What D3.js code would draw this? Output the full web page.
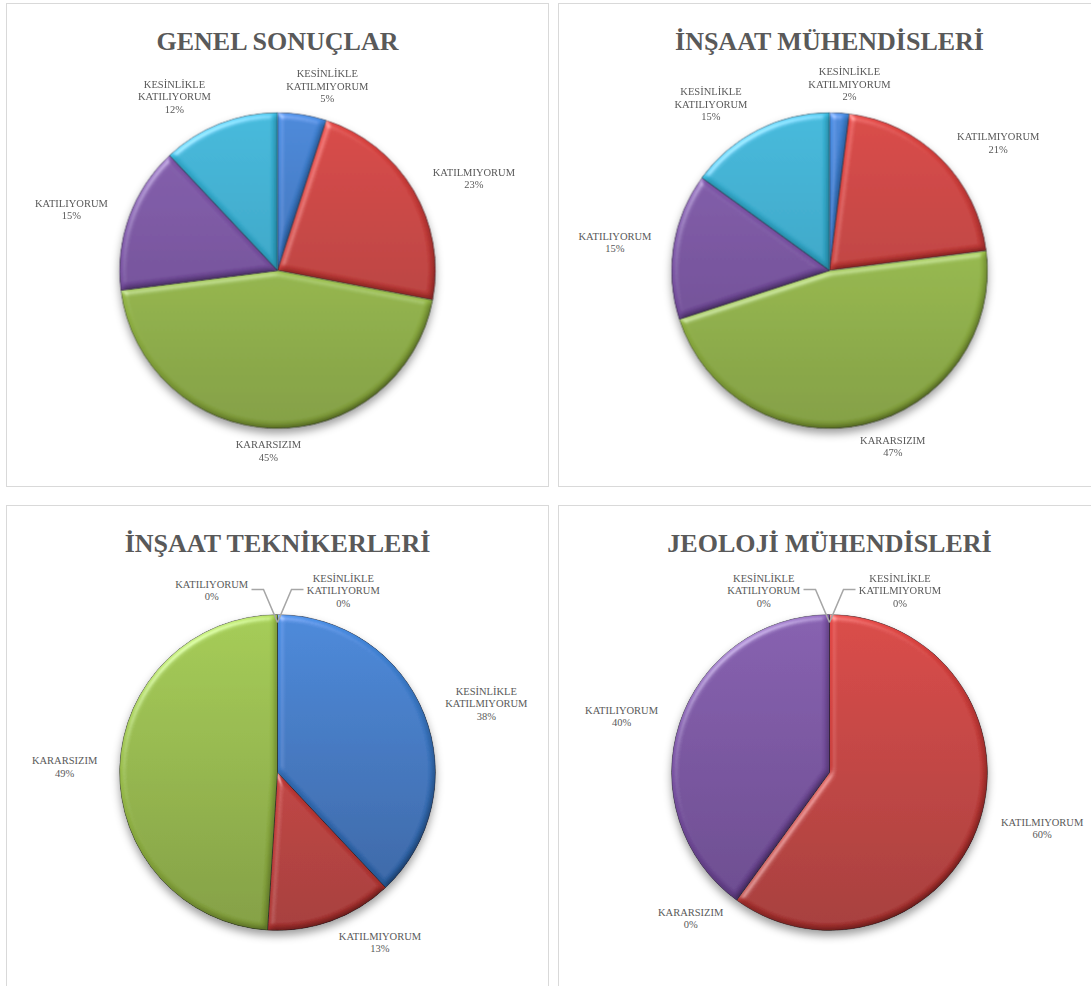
<!DOCTYPE html>
<html>
<head>
<meta charset="utf-8">
<script src="https://cdn.jsdelivr.net/npm/d3@7"></script>
<style>
  html, body { margin: 0; padding: 0; background: #ffffff; }
  svg { display: block; }
</style>
</head>
<body>
<svg id="chart" width="1091" height="986"></svg>
<script>
// Survey answer categories (slice order, clockwise from 12 o'clock)
const categories = [
  "KESİNLİKLE KATILMIYORUM",
  "KATILMIYORUM",
  "KARARSIZIM",
  "KATILIYORUM",
  "KESİNLİKLE KATILIYORUM"
];

// Chart titles
const chartTitles = [
  "GENEL SONUÇLAR",
  "İNŞAAT MÜHENDİSLERİ",
  "İNŞAAT TEKNİKERLERİ",
  "JEOLOJİ MÜHENDİSLERİ"
];

// Percentage shares per group, in category order
const genelSonuclar       = [5, 23, 45, 15, 12];
const insaatMuhendisleri  = [2, 21, 47, 15, 15];
const insaatTeknikerleri  = [38, 13, 49, 0, 0];
const jeolojiMuhendisleri = [0, 60, 0, 40, 0];

const seriesList = [genelSonuclar, insaatMuhendisleri, insaatTeknikerleri, jeolojiMuhendisleri];

// Slice colours: [top, bottom] of the vertical shading
const sliceColors = [
  ["#4185d8", "#2b5c9c"],
  ["#d8403d", "#a3302e"],
  ["#a2ca4e", "#7f9c38"],
  ["#8259ad", "#633f88"],
  ["#39b7da", "#2893b2"]
];

// ---- layout ----
const panelW = 542, panelH = 483;
const panelOrigins = [[6.5, 3.5], [558.5, 3.5], [6.5, 505.5], [558.5, 505.5]];
const pieCx = 271, pieCy = 267, radius = 158;
const textColor = "#595959";
const labelFont = "'Times New Roman', 'Liberation Serif', serif";

const svg = d3.select("#chart");
const defs = svg.append("defs");

// vertical shading gradients, in the pie's local coordinates
sliceColors.forEach((c, i) => {
  const g = defs.append("linearGradient")
    .attr("id", "shade" + i)
    .attr("gradientUnits", "userSpaceOnUse")
    .attr("x1", 0).attr("y1", -radius).attr("x2", 0).attr("y2", radius);
  g.append("stop").attr("offset", "0%").attr("stop-color", c[0]);
  g.append("stop").attr("offset", "100%").attr("stop-color", c[1]);
});

// soft bevel on each slice
const bevel = defs.append("filter").attr("id", "bevel")
  .attr("x", "-5%").attr("y", "-5%").attr("width", "110%").attr("height", "110%");
bevel.append("feGaussianBlur").attr("in", "SourceAlpha").attr("stdDeviation", 3).attr("result", "blur");
bevel.append("feDiffuseLighting").attr("in", "blur").attr("surfaceScale", 2.6)
  .attr("diffuseConstant", 1).attr("lighting-color", "#ffffff").attr("result", "diff")
  .append("feDistantLight").attr("azimuth", 235).attr("elevation", 50);
bevel.append("feComposite").attr("in", "SourceGraphic").attr("in2", "diff")
  .attr("operator", "arithmetic").attr("k1", 1.3).attr("k2", 0).attr("k3", 0).attr("k4", 0)
  .attr("result", "lit");
bevel.append("feSpecularLighting").attr("in", "blur").attr("surfaceScale", 2.6)
  .attr("specularConstant", 0.35).attr("specularExponent", 40)
  .attr("lighting-color", "#ffffff").attr("result", "spec")
  .append("feDistantLight").attr("azimuth", 235).attr("elevation", 50);
bevel.append("feComposite").attr("in", "spec").attr("in2", "SourceAlpha")
  .attr("operator", "in").attr("result", "specIn");
bevel.append("feComposite").attr("in", "lit").attr("in2", "specIn")
  .attr("operator", "arithmetic").attr("k1", 0).attr("k2", 1).attr("k3", 0.8).attr("k4", 0)
  .attr("result", "both");
bevel.append("feComposite").attr("in", "both").attr("in2", "SourceAlpha").attr("operator", "in");

// shadow under the whole pie
const shadow = defs.append("filter").attr("id", "pieShadow")
  .attr("x", "-20%").attr("y", "-20%").attr("width", "140%").attr("height", "145%");
shadow.append("feDropShadow").attr("dx", 0).attr("dy", 5).attr("stdDeviation", 4.5)
  .attr("flood-color", "#000").attr("flood-opacity", 0.38);

const pie = d3.pie().sort(null).value(d => d).startAngle(0).endAngle(2 * Math.PI);
const arc = d3.arc().innerRadius(0).outerRadius(radius);
const fmt = v => Math.round(v) + "%";

seriesList.forEach((values, ci) => {
  const [px, py] = panelOrigins[ci];
  const panel = svg.append("g").attr("transform", `translate(${px},${py})`);

  panel.append("rect")
    .attr("width", panelW).attr("height", panelH)
    .attr("fill", "#ffffff").attr("stroke", "#d9d9d9").attr("stroke-width", 1);

  panel.append("text")
    .attr("x", panelW / 2).attr("y", 46)
    .attr("text-anchor", "middle")
    .attr("font-family", labelFont)
    .attr("font-weight", "bold")
    .attr("font-size", 26)
    .attr("fill", textColor)
    .text(chartTitles[ci]);

  const arcs = pie(values);
  const pieG = panel.append("g").attr("transform", `translate(${pieCx},${pieCy})`);
  const slices = pieG.append("g").attr("filter", "url(#pieShadow)");

  slices.selectAll("path")
    .data(arcs.filter(a => a.value > 0))
    .join("path")
    .attr("d", arc)
    .attr("fill", d => `url(#shade${d.index})`)
    .attr("stroke", "rgba(20,20,30,0.6)")
    .attr("stroke-width", 0.8)
    .attr("filter", "url(#bevel)");

  // data labels
  const labelG = pieG.append("g")
    .attr("font-family", labelFont)
    .attr("font-size", 10.5)
    .attr("fill", textColor)
    .attr("text-anchor", "middle");

  const lineH = 12.5;
  const labels = arcs.map(a => {
    const lines = categories[a.index].split(" ").concat([fmt(a.value)]);
    const t = labelG.append("text");
    lines.forEach((ln, k) => t.append("tspan").attr("x", 0).attr("dy", k === 0 ? 0 : lineH).text(ln));
    const bb = t.node().getBBox();
    return { a, t, w: bb.width, h: lines.length * lineH, n: lines.length };
  });

  const gapX = 22, gapY = 10;
  const place = (lb, cxL, cyL) => {
    // vertically centre the block of lines on cyL
    const firstBaseline = cyL - lb.h / 2 + lineH * 0.78;
    lb.t.attr("transform", `translate(${cxL},${firstBaseline})`);
  };

  // zero-valued slices at 12 o'clock get leader lines, split to both sides
  const topZero = labels.filter(lb => lb.a.value === 0 && Math.cos((lb.a.startAngle + lb.a.endAngle) / 2) > 0.99);
  topZero.forEach(lb => {
    const m = (lb.a.startAngle + lb.a.endAngle) / 2;
    lb.key = m > Math.PI ? m - 2 * Math.PI - 1e-9 : m;
  });
  topZero.sort((p, q) => p.key - q.key || p.a.index - q.a.index);
  topZero.forEach((lb, k) => {
    const side = topZero.length > 1 ? (k === 0 ? -1 : 1) : (lb.key < 0 ? -1 : 1);
    const apexY = -radius * 0.95;
    const elbowX = side * 14, elbowY = -radius - 25, endX = side * 26;
    labelG.append("path")
      .attr("d", d3.line()([[0, apexY], [elbowX, elbowY], [endX, elbowY]]))
      .attr("fill", "none").attr("stroke", "#a6a6a6").attr("stroke-width", 1.5);
    place(lb, side * (endX * side + 3 + lb.w / 2), elbowY + 1);
    lb.done = true;
  });

  labels.filter(lb => !lb.done).forEach(lb => {
    const m = (lb.a.startAngle + lb.a.endAngle) / 2;
    const s = Math.sin(m), c = Math.cos(m);
    const sg = s >= 0 ? 1 : -1;
    const x = s * (radius + gapX) + sg * (lb.w / 2) * Math.min(1, Math.abs(s) / 0.3);
    const y = -c * (radius + gapY) - c * (lb.h / 2);
    place(lb, x, y);
  });
});
</script>
</body>
</html>
